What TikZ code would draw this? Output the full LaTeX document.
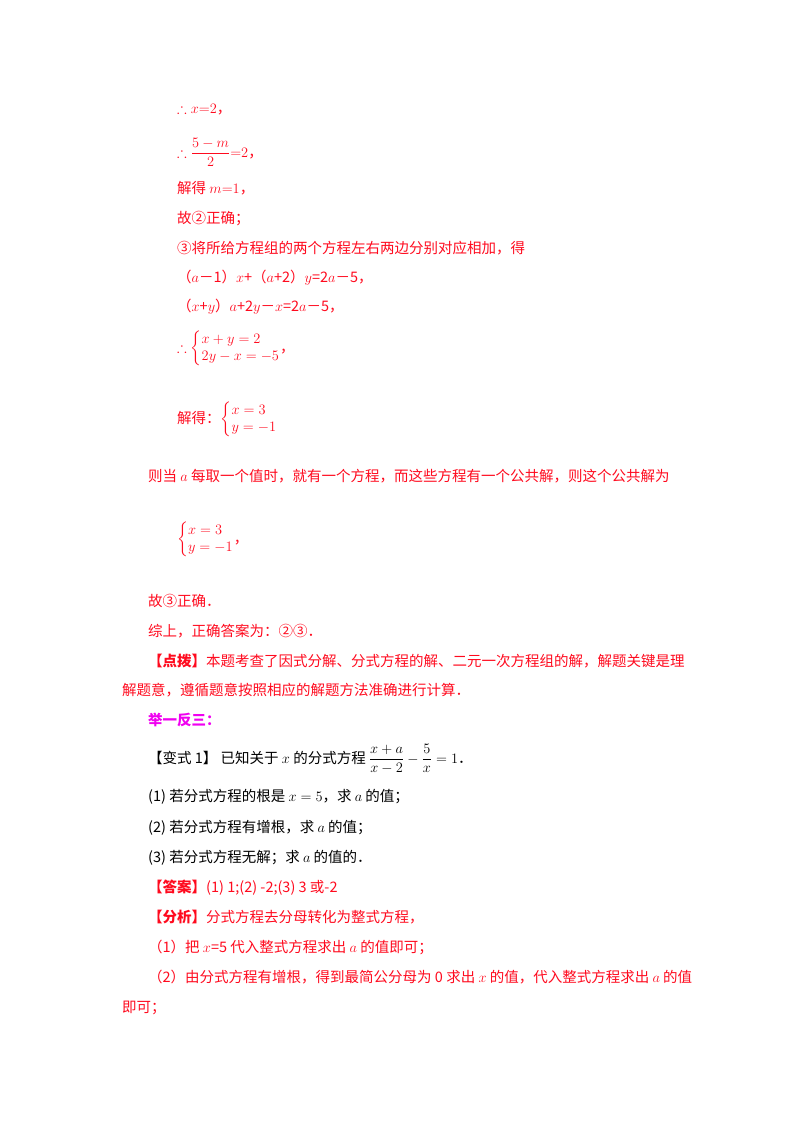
\documentclass[tikz,border=0pt]{standalone}
\usepackage{amsmath,amssymb}
\usepackage{fontspec}
\setmainfont{Liberation Serif}
\newfontfamily\cjk{Noto Sans CJK SC}
\definecolor{rd}{RGB}{255,10,30}
\definecolor{mg}{RGB}{240,0,240}
\tikzset{t/.style={anchor=base west,inner sep=0pt,font=\fontsize{14.5}{17}\selectfont\cjk},
r/.style={t,text=rd}, k/.style={t,text=black}}
\begin{document}
\begin{tikzpicture}[x=1pt,y=-1pt]
\useasboundingbox (0,0) rectangle (800,1132);
\node[r] (a1) at (177,113) {$\therefore x{=}2$，};
\node[r] (a2) at (177,157) {$\therefore\dfrac{5-m}{2}{=}2$，};
\node[r] (a3) at (177,193) {解得 $m{=}1$，};
\node[r] (a4) at (177,223) {故②正确；};
\node[r] (a5) at (177,253) {③将所给方程组的两个方程左右两边分别对应相加，得};
\node[r] (a6) at (177,282) {（$a$－1）$x$+（$a$+2）$y$=2$a$－5，};
\node[r] (a7) at (177,311) {（$x$+$y$）$a$+2$y$－$x$=2$a$－5，};
\node[r] (a8) at (177,352) {$\therefore\left\{\begin{array}{@{}l@{}}x+y=2\\ 2y-x=-5\end{array}\right.$，};
\node[r] (a9) at (177,423) {解得：$\left\{\begin{array}{@{}l@{}}x=3\\ y=-1\end{array}\right.$};
\node[r] (b1) at (148,481) {则当 $a$ 每取一个值时，就有一个方程，而这些方程有一个公共解，则这个公共解为};
\node[r] (b2) at (177,543) {$\left\{\begin{array}{@{}l@{}}x=3\\ y=-1\end{array}\right.$，};
\node[r] (b3) at (148,606) {故③正确．};
\node[r] (b4) at (148,636) {综上，正确答案为：②③．};
\node[r] (b5) at (148,666) {\textbf{【点拨】}本题考查了因式分解、分式方程的解、二元一次方程组的解，解题关键是理};
\node[r] (b6) at (122,695) {解题意，遵循题意按照相应的解题方法准确进行计算．};
\node[t,text=mg,font=\fontsize{14.5}{17}\selectfont\cjk\bfseries] (c1) at (148,725) {举一反三：};
\node[k] (c2) at (148,763) {【变式 1】 已知关于 $x$ 的分式方程 $\dfrac{x+a}{x-2}-\dfrac{5}{x}=1$．};
\node[k] (c3) at (148,801) {(1) 若分式方程的根是 $x=5$，求 $a$ 的值；};
\node[k] (c4) at (148,832) {(2) 若分式方程有增根，求 $a$ 的值；};
\node[k] (c5) at (148,862) {(3) 若分式方程无解；求 $a$ 的值的．};
\node[r] (c6) at (148,892) {\textbf{【答案】}(1) 1;(2) -2;(3) 3 或-2};
\node[r] (c7) at (148,922) {\textbf{【分析】}分式方程去分母转化为整式方程，};
\node[r] (c8) at (148,952) {（1）把 $x$=5 代入整式方程求出 $a$ 的值即可；};
\node[r] (c9) at (148,982) {（2）由分式方程有增根，得到最简公分母为 0 求出 $x$ 的值，代入整式方程求出 $a$ 的值};
\node[r] (c10) at (122,1012) {即可；};
\end{tikzpicture}
\end{document}
